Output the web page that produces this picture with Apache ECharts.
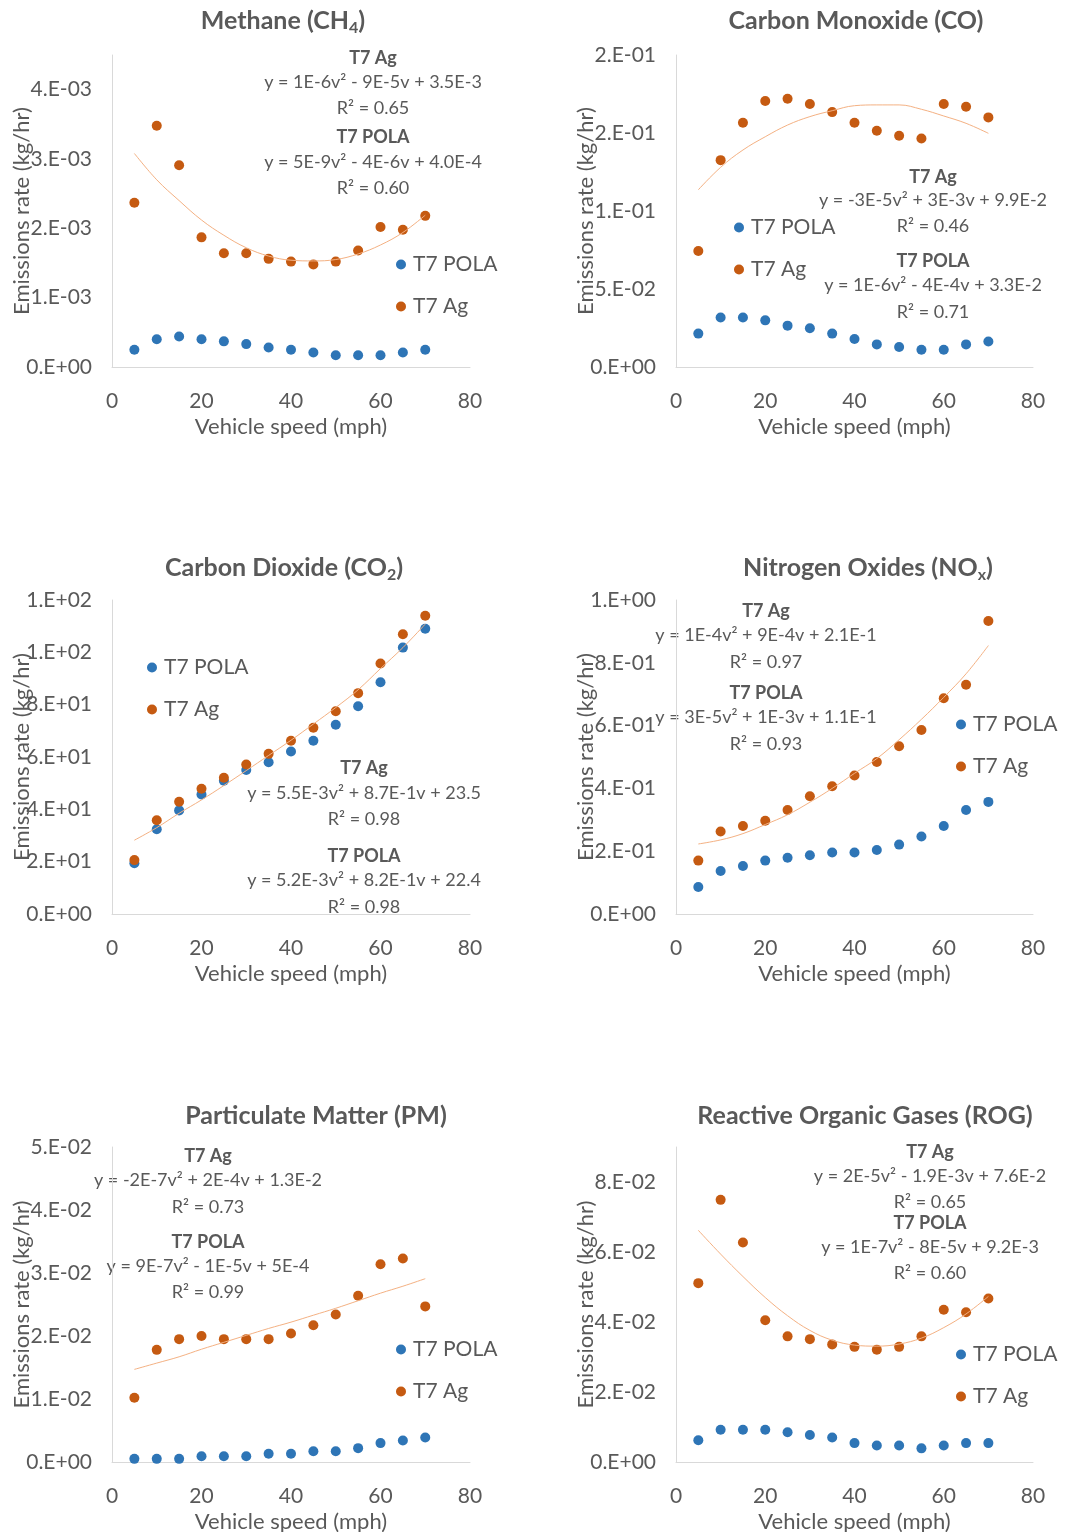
<!DOCTYPE html>
<html>
<head>
<meta charset="utf-8">
<title>Emission rates vs vehicle speed</title>
<script src="https://cdn.jsdelivr.net/npm/echarts@6/dist/echarts.min.js"></script>
<style>
  html, body { margin: 0; padding: 0; background: #fff; }
  #main { width: 1068px; height: 1532px; }
</style>
</head>
<body>
<div id="main"></div>
<script>
// vehicle speed (mph), shared by every panel
const speeds = [5, 10, 15, 20, 25, 30, 35, 40, 45, 50, 55, 60, 65, 70]
const speedTicks = [0, 80, 20] // min, max, step

// Methane (kg/hr)
const ch4Pola = [2.5e-4, 4.0e-4, 4.4e-4, 4.0e-4, 3.7e-4, 3.3e-4, 2.8e-4, 2.5e-4, 2.1e-4, 1.7e-4, 1.7e-4, 1.7e-4, 2.1e-4, 2.5e-4]
const ch4Ag = [2.37e-3, 3.48e-3, 2.91e-3, 1.87e-3, 1.64e-3, 1.64e-3, 1.56e-3, 1.52e-3, 1.48e-3, 1.52e-3, 1.68e-3, 2.02e-3, 1.98e-3, 2.18e-3]
const ch4AgTrend = [3.08e-3, 2.70e-3, 2.40e-3, 2.12e-3, 1.90e-3, 1.72e-3, 1.60e-3, 1.54e-3, 1.53e-3, 1.55e-3, 1.63e-3, 1.76e-3, 1.94e-3, 2.19e-3]
const ch4Fit = ['T7 Ag', 'y = 1E-6v² - 9E-5v + 3.5E-3', 'R² = 0.65', 'T7 POLA', 'y = 5E-9v² - 4E-6v + 4.0E-4', 'R² = 0.60']

// Carbon monoxide
const coPola = [0.0214, 0.0317, 0.0317, 0.0299, 0.0265, 0.0248, 0.0214, 0.0180, 0.0145, 0.0128, 0.0111, 0.0111, 0.0145, 0.0163]
const coAg = [0.0744, 0.1326, 0.1566, 0.1705, 0.1720, 0.1686, 0.1634, 0.1566, 0.1514, 0.1482, 0.1465, 0.1686, 0.1668, 0.1600]
const coAgTrend = [0.1136, 0.1280, 0.1391, 0.1476, 0.1551, 0.1605, 0.1643, 0.1675, 0.1680, 0.1680, 0.1652, 0.1609, 0.1562, 0.1498]
const coFit = ['T7 Ag', 'y = -3E-5v² + 3E-3v + 9.9E-2', 'R² = 0.46', 'T7 POLA', 'y = 1E-6v² - 4E-4v + 3.3E-2', 'R² = 0.71']

// Carbon dioxide
const co2Pola = [19.4, 32.4, 39.6, 45.7, 50.9, 55.0, 58.0, 62.1, 66.2, 72.3, 79.4, 88.6, 101.8, 109.0]
const co2Ag = [20.6, 35.8, 42.9, 47.9, 52.1, 57.1, 61.2, 66.2, 71.2, 77.5, 84.4, 95.7, 106.9, 114.0]
const co2AgTrend = [28.2, 33.0, 38.5, 43.6, 49.1, 54.8, 60.6, 66.4, 72.6, 78.9, 85.7, 93.8, 101.8, 110.8]
const co2Fit = ['T7 Ag', 'y = 5.5E-3v² + 8.7E-1v + 23.5', 'R² = 0.98', 'T7 POLA', 'y = 5.2E-3v² + 8.2E-1v + 22.4', 'R² = 0.98']

// Nitrogen oxides
const noxPola = [0.086, 0.137, 0.153, 0.170, 0.179, 0.187, 0.196, 0.196, 0.204, 0.221, 0.247, 0.280, 0.331, 0.357]
const noxAg = [0.170, 0.263, 0.280, 0.297, 0.331, 0.375, 0.407, 0.441, 0.484, 0.534, 0.586, 0.687, 0.730, 0.933]
const noxAgTrend = [0.223, 0.236, 0.256, 0.285, 0.316, 0.356, 0.400, 0.448, 0.495, 0.555, 0.620, 0.690, 0.765, 0.855]
const noxFit = ['T7 Ag', 'y = 1E-4v² + 9E-4v + 2.1E-1', 'R² = 0.97', 'T7 POLA', 'y = 3E-5v² + 1E-3v + 1.1E-1', 'R² = 0.93']

// Particulate matter
const pmPola = [0.0005, 0.0005, 0.0005, 0.0009, 0.0009, 0.0009, 0.0013, 0.0013, 0.0017, 0.0017, 0.0022, 0.0030, 0.0034, 0.0039]
const pmAg = [0.0102, 0.0178, 0.0195, 0.0200, 0.0195, 0.0195, 0.0195, 0.0204, 0.0217, 0.0234, 0.0264, 0.0314, 0.0323, 0.0247]
const pmAgTrend = [0.0147, 0.0157, 0.0167, 0.0179, 0.0190, 0.0201, 0.0212, 0.0222, 0.0233, 0.0244, 0.0256, 0.0268, 0.0279, 0.0291]
const pmFit = ['T7 Ag', 'y = -2E-7v² + 2E-4v + 1.3E-2', 'R² = 0.73', 'T7 POLA', 'y = 9E-7v² - 1E-5v + 5E-4', 'R² = 0.99']

// Reactive organic gases
const rogPola = [0.0062, 0.0092, 0.0092, 0.0092, 0.0085, 0.0077, 0.0070, 0.0054, 0.0047, 0.0047, 0.0039, 0.0047, 0.0054, 0.0054]
const rogAg = [0.0511, 0.0749, 0.0627, 0.0405, 0.0359, 0.0351, 0.0336, 0.0329, 0.0321, 0.0329, 0.0359, 0.0435, 0.0428, 0.0467]
const rogAgTrend = [0.0662, 0.0594, 0.0530, 0.0470, 0.0418, 0.0376, 0.0348, 0.0334, 0.0331, 0.0337, 0.0354, 0.0384, 0.0423, 0.0473]
const rogFit = ['T7 Ag', 'y = 2E-5v² - 1.9E-3v + 7.6E-2', 'R² = 0.65', 'T7 POLA', 'y = 1E-7v² - 8E-5v + 9.2E-3', 'R² = 0.60']

const GREY = '#595959'
const AXIS = '#D9D9D9'
const BLUE = '#2E75B6'
const ORANGE = '#C55A11'
const TREND = '#F4B183'
const FONT = 'Lato'

// layout of the six panels
const panels = [
  { title: '{t|Methane (CH}{s|4}{t|)}', tx: 283, ty: 6, grid: [112, 55, 358, 312], yMax: 4.5e-3, yStep: 1e-3,
    pola: ch4Pola, ag: ch4Ag, trend: ch4AgTrend, fit: ch4Fit, fx: 373, fy: [58, 82, 108, 137, 162, 188], leg: [401, 264] },
  { title: '{t|Carbon Monoxide (CO)}', tx: 856, ty: 6, grid: [676, 55, 357, 312], yMax: 0.2, yStep: 0.05,
    pola: coPola, ag: coAg, trend: coAgTrend, fit: coFit, fx: 933, fy: [177, 200, 226, 261, 285, 312], leg: [739, 227] },
  { title: '{t|Carbon Dioxide (CO}{s|2}{t|)}', tx: 284, ty: 553, grid: [112, 600, 358, 314], yMax: 120, yStep: 20,
    pola: co2Pola, ag: co2Ag, trend: co2AgTrend, fit: co2Fit, fx: 364, fy: [768, 793, 819, 856, 880, 907], leg: [152, 667] },
  { title: '{t|Nitrogen Oxides (NO}{s|x}{t|)}', tx: 868, ty: 553, grid: [676, 600, 357, 314], yMax: 1.0, yStep: 0.2,
    pola: noxPola, ag: noxAg, trend: noxAgTrend, fit: noxFit, fx: 766, fy: [611, 635, 662, 693, 717, 744], leg: [961, 724] },
  { title: '{t|Particulate Matter (PM)}', tx: 316, ty: 1101, grid: [112, 1147, 358, 315], yMax: 0.05, yStep: 0.01,
    pola: pmPola, ag: pmAg, trend: pmAgTrend, fit: pmFit, fx: 208, fy: [1156, 1180, 1207, 1242, 1266, 1292], leg: [401, 1349] },
  { title: '{t|Reactive Organic Gases (ROG)}', tx: 865, ty: 1101, grid: [676, 1147, 357, 315], yMax: 0.09, yStep: 0.02,
    pola: rogPola, ag: rogAg, trend: rogAgTrend, fit: rogFit, fx: 930, fy: [1152, 1176, 1202, 1223, 1247, 1273], leg: [961, 1354] }
]

// Excel "0.E+00" number format
function sci (v) {
  if (v === 0) return '0.E+00'
  let e = Math.floor(Math.log10(Math.abs(v)))
  let m = Math.round(parseFloat((v / Math.pow(10, e)).toPrecision(10)))
  if (Math.abs(m) >= 10) {
    m = m / 10
    e++
  }
  const ex = String(Math.abs(e)).padStart(2, '0')
  return m + '.E' + (e < 0 ? '-' : '+') + ex
}

const pairs = (ys) => speeds.map((s, i) => [s, ys[i]])

const chart = echarts.init(document.getElementById('main'))

const option = {
  animation: false,
  backgroundColor: '#fff',
  textStyle: { fontFamily: FONT },
  title: [],
  legend: [],
  grid: [],
  xAxis: [],
  yAxis: [],
  series: [],
  graphic: []
}

panels.forEach((p, i) => {
  option.title.push({
    text: p.title,
    left: p.tx,
    top: p.ty,
    textAlign: 'center',
    padding: 0,
    textStyle: {
      rich: {
        t: { fontFamily: FONT, fontSize: 25, fontWeight: 'bold', color: GREY, lineHeight: 30 },
        s: { fontFamily: FONT, fontSize: 16, fontWeight: 'bold', color: GREY, lineHeight: 16, verticalAlign: 'bottom' }
      }
    }
  })
  option.grid.push({
    left: p.grid[0], top: p.grid[1], width: p.grid[2], height: p.grid[3],
    outerBoundsMode: 'none'
  })
  option.xAxis.push({
    type: 'value',
    gridIndex: i,
    min: speedTicks[0],
    max: speedTicks[1],
    interval: speedTicks[2],
    name: 'Vehicle speed (mph)',
    nameLocation: 'middle',
    nameGap: 49,
    nameTextStyle: { color: GREY, fontSize: 22, fontFamily: FONT },
    axisLine: { show: true, lineStyle: { color: AXIS, width: 1 } },
    axisTick: { show: false },
    splitLine: { show: false },
    axisLabel: { color: GREY, fontSize: 21, fontFamily: FONT, margin: 24 }
  })
  option.yAxis.push({
    type: 'value',
    gridIndex: i,
    min: 0,
    max: p.yMax,
    interval: p.yStep,
    name: 'Emissions rate (kg/hr)',
    nameLocation: 'middle',
    nameGap: 79,
    nameMoveOverlap: false,
    nameTextStyle: { color: GREY, fontSize: 22, fontFamily: FONT },
    axisLine: { show: true, lineStyle: { color: AXIS, width: 1 } },
    axisTick: { show: false },
    splitLine: { show: false },
    axisLabel: {
      color: GREY, fontSize: 21, fontFamily: FONT, margin: 20,
      showMaxLabel: Math.abs(p.yMax / p.yStep - Math.round(p.yMax / p.yStep)) < 1e-6,
      formatter: sci
    }
  })
  option.legend.push({
    orient: 'vertical',
    left: p.leg[0] - 5,
    top: p.leg[1] - 10,
    padding: 0,
    itemWidth: 10,
    itemHeight: 10,
    itemGap: 21,
    icon: 'circle',
    selectedMode: false,
    data: ['T7 POLA', 'T7 Ag'],
    textStyle: { color: GREY, fontSize: 21, fontFamily: FONT, padding: [0, 0, 0, 2] }
  })
  option.series.push({
    name: 'T7 POLA',
    type: 'scatter',
    xAxisIndex: i,
    yAxisIndex: i,
    symbolSize: 10,
    itemStyle: { color: BLUE, opacity: 1 },
    data: pairs(p.pola)
  })
  option.series.push({
    name: 'T7 Ag',
    type: 'scatter',
    xAxisIndex: i,
    yAxisIndex: i,
    symbolSize: 10,
    itemStyle: { color: ORANGE, opacity: 1 },
    data: pairs(p.ag)
  })
  option.series.push({
    name: 'T7 Ag trend',
    type: 'line',
    xAxisIndex: i,
    yAxisIndex: i,
    smooth: 0.4,
    showSymbol: false,
    silent: true,
    lineStyle: { color: TREND, width: 1 },
    data: pairs(p.trend)
  })
  // trendline equation labels
  p.fit.forEach((txt, k) => {
    const bold = k === 0 || k === 3
    option.graphic.push({
      type: 'text',
      x: p.fx,
      y: p.fy[k],
      style: {
        text: txt,
        fill: GREY,
        font: (bold ? 'bold ' : '') + '18px ' + FONT,
        align: 'center',
        verticalAlign: 'middle',
        textAlign: 'center',
        textVerticalAlign: 'middle'
      }
    })
  })
})

chart.setOption(option)
</script>
</body>
</html>
